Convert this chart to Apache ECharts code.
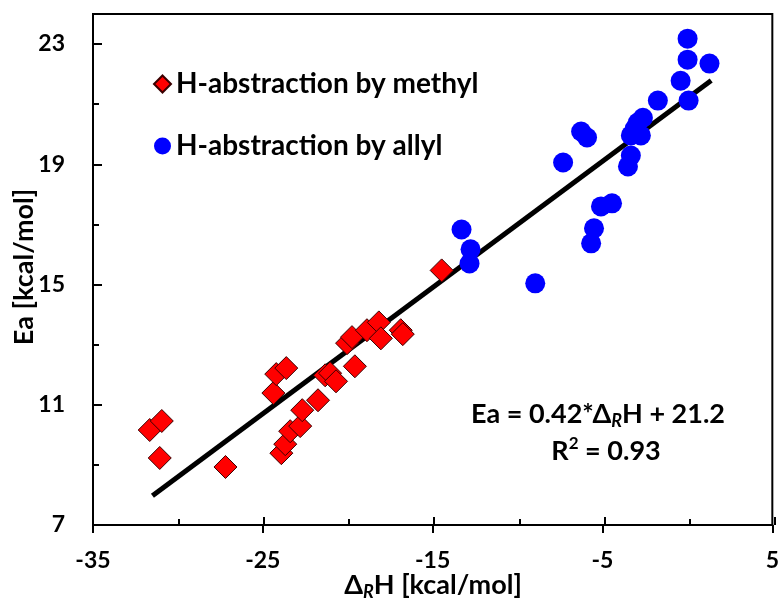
<!DOCTYPE html>
<html>
<head>
<meta charset="utf-8">
<script src="https://cdn.jsdelivr.net/npm/echarts@6/dist/echarts.min.js"></script>
<style>
  html, body { margin: 0; padding: 0; background: #fff; }
  #chart { width: 782px; height: 602px; }
</style>
</head>
<body>
<div id="chart"></div>
<script>
// H-abstraction by methyl radicals: reaction enthalpy vs. activation energy
const methylX = [-31.66, -30.95, -31.07, -27.2, -24.38, -24.21, -23.62, -23.91, -23.68, -23.39,
                 -22.8, -22.68, -21.75, -21.33, -21.04, -20.69, -20.04, -19.75, -19.58, -18.87,
                 -18.17, -18.05, -16.88, -16.76, -14.47];
const methylY = [10.16, 10.46, 9.23, 8.93, 11.39, 12.02, 12.22, 9.39, 9.69, 10.12,
                 10.29, 10.82, 11.15, 11.98, 12.05, 11.78, 13.05, 13.25, 12.28, 13.48,
                 13.74, 13.21, 13.48, 13.35, 15.47];

// H-abstraction by allyl radicals
const allylX = [-13.3, -12.77, -12.83, -8.96, -7.32, -6.26, -5.91, -5.67, -5.5, -5.09,
                -4.44, -3.5, -3.33, -3.33, -3.1, -2.92, -2.74, -2.62, -1.74, -0.4,
                0.01, 0.01, 0.07, 1.3];
const allylY = [16.83, 16.17, 15.7, 15.04, 19.06, 20.09, 19.89, 16.37, 16.87, 17.6,
                17.7, 18.93, 19.29, 19.96, 20.19, 20.39, 19.96, 20.55, 21.12, 21.78,
                23.18, 22.48, 21.12, 22.35];

// Fitted line Ea = 0.42*ΔRH + 21.2, end points
const fitX = [-31.5, 1.4];
const fitY = [7.97, 21.79];

// Axis ranges and tick steps
const xRange = [-35, 5];
const xStep = 10;
const yRange = [7, 24];
const yStep = 4;
const yMinorStep = 2;

const seriesNames = ['H-abstraction by methyl', 'H-abstraction by allyl'];
const eqLine1 = 'Ea = 0.42*Δ';
const eqLine1b = 'H + 21.2';
const eqLine2 = ' = 0.93';

const FONT = 'Lato, "Open Sans", "DejaVu Sans", sans-serif';
const TEXT_SIZE = 27;
const zip = (xs, ys) => xs.map((x, i) => [x, ys[i]]);

const gridBox = { left: 93, right: 7, top: 14, bottom: 77 };
const axisLine = { show: true, onZero: false, lineStyle: { color: '#000', width: 2 } };
const hiddenLine = { show: false, onZero: false };
const tickStyle = { color: '#000', width: 2 };
const labelStyle = { color: '#000', fontSize: 23, fontWeight: 'bold', fontFamily: FONT };

const chart = echarts.init(document.getElementById('chart'), null, { renderer: 'canvas' });

chart.setOption({
  animation: false,
  backgroundColor: '#fff',
  grid: [
    Object.assign({ show: true, borderColor: '#000', borderWidth: 2, backgroundColor: 'transparent' }, gridBox),
    Object.assign({ show: false }, gridBox)
  ],
  xAxis: [
    {
      gridIndex: 0, type: 'value', position: 'bottom',
      min: xRange[0], max: xRange[1], interval: xStep,
      axisLine: axisLine,
      axisTick: { show: true, inside: false, length: 8, lineStyle: tickStyle },
      axisLabel: Object.assign({ margin: 24 }, labelStyle),
      splitLine: { show: false }
    },
    {
      gridIndex: 1, type: 'value', position: 'bottom',
      min: xRange[0], max: xRange[1], interval: xStep,
      axisLine: hiddenLine,
      axisTick: { show: true, inside: true, length: 8, lineStyle: tickStyle },
      minorTick: { show: true, splitNumber: 2, length: 6, lineStyle: tickStyle },
      axisLabel: { show: false },
      splitLine: { show: false }
    }
  ],
  yAxis: [
    {
      gridIndex: 0, type: 'value', position: 'left',
      min: yRange[0], max: yRange[1], interval: yStep,
      axisLine: axisLine,
      axisTick: { show: true, inside: true, length: 9, lineStyle: tickStyle },
      axisLabel: Object.assign({ margin: 28, showMaxLabel: false }, labelStyle),
      splitLine: { show: false }
    },
    {
      gridIndex: 1, type: 'value', position: 'left',
      min: yRange[0], max: yRange[1], interval: yMinorStep,
      axisLine: hiddenLine,
      axisTick: { show: true, inside: true, length: 6, lineStyle: tickStyle },
      axisLabel: { show: false },
      splitLine: { show: false }
    }
  ],
  legend: {
    data: seriesNames,
    orient: 'vertical',
    left: 148, top: 64,
    itemWidth: 17, itemHeight: 17,
    itemGap: 32,
    textStyle: { color: '#000', fontSize: 28, fontWeight: 'bold', fontFamily: FONT, lineHeight: 30 }
  },
  series: [
    {
      type: 'line', name: 'fit', xAxisIndex: 0, yAxisIndex: 0,
      data: zip(fitX, fitY),
      showSymbol: false, symbol: 'none',
      lineStyle: { color: '#000', width: 5 },
      z: 2
    },
    {
      type: 'scatter', name: seriesNames[0], xAxisIndex: 0, yAxisIndex: 0,
      data: zip(methylX, methylY),
      symbol: 'diamond', symbolSize: 23,
      itemStyle: { color: '#FF0000', borderColor: '#3a0000', borderWidth: 1, opacity: 1 },
      z: 3
    },
    {
      type: 'scatter', name: seriesNames[1], xAxisIndex: 0, yAxisIndex: 0,
      data: zip(allylX, allylY),
      symbol: 'circle', symbolSize: 20,
      itemStyle: { color: '#0000FF', opacity: 1 },
      z: 3
    }
  ],
  graphic: [
    {
      type: 'text', x: 24, y: 267, rotation: Math.PI / 2,
      style: {
        text: 'Ea [kcal/mol]', fill: '#000', fontSize: TEXT_SIZE, fontWeight: 'bold', fontFamily: FONT,
        align: 'center', verticalAlign: 'middle'
      }
    },
    {
      type: 'text', x: 433, y: 585,
      style: {
        text: '{a|Δ}{s|R}{a|H [kcal/mol]}',
        align: 'center', verticalAlign: 'middle',
        rich: {
          a: { fill: '#000', fontSize: TEXT_SIZE, fontWeight: 'bold', fontFamily: FONT, lineHeight: 32 },
          s: { fill: '#000', fontSize: 18, fontWeight: 'bold', fontStyle: 'italic', fontFamily: FONT, lineHeight: 18, verticalAlign: 'bottom' }
        }
      }
    },
    {
      type: 'text', x: 598, y: 414,
      style: {
        text: '{a|' + eqLine1 + '}{s|R}{a|' + eqLine1b + '}',
        align: 'center', verticalAlign: 'middle',
        rich: {
          a: { fill: '#000', fontSize: TEXT_SIZE, fontWeight: 'bold', fontFamily: FONT, lineHeight: 32 },
          s: { fill: '#000', fontSize: 18, fontWeight: 'bold', fontStyle: 'italic', fontFamily: FONT, lineHeight: 18, verticalAlign: 'bottom' }
        }
      }
    },
    {
      type: 'text', x: 606, y: 451,
      style: {
        text: '{a|R}{p|2}{a|' + eqLine2 + '}',
        align: 'center', verticalAlign: 'middle',
        rich: {
          a: { fill: '#000', fontSize: TEXT_SIZE, fontWeight: 'bold', fontFamily: FONT, lineHeight: 32 },
          p: { fill: '#000', fontSize: 17, fontWeight: 'bold', fontFamily: FONT, lineHeight: 18, verticalAlign: 'top' }
        }
      }
    }
  ]
});
</script>
</body>
</html>
